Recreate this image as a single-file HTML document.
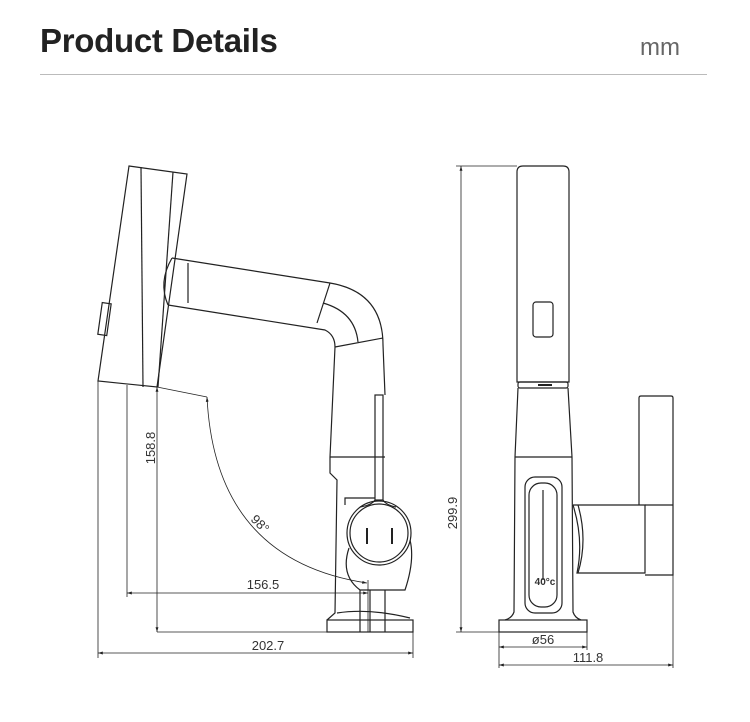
<!DOCTYPE html><html><head><style>
body{margin:0;background:#fff;width:750px;height:722px;overflow:hidden;font-family:"Liberation Sans",sans-serif}
.t{position:absolute;left:40px;top:22px;font-size:33px;font-weight:bold;color:#222;letter-spacing:-0.3px}
.mm{position:absolute;left:640px;top:34px;font-size:24px;color:#666}
.ln{position:absolute;left:40px;top:74px;width:667px;height:1px;background:#bbb}
</style></head><body>
<div class="t">Product Details</div><div class="mm">mm</div><div class="ln"></div>
<svg width="750" height="722" style="position:absolute;left:0;top:0" fill="none" stroke="#222" stroke-width="1.2">
<defs><marker id="a" viewBox="0 0 10 10" refX="10" refY="5" markerWidth="6" markerHeight="6" orient="auto-start-reverse"><path d="M0,2L10,5L0,8z" fill="#222" stroke="none"/></marker></defs>
<path d="M129,166 L187,174 L157,387 L98,381 Z"/>
<line x1="141" y1="167" x2="143" y2="387"/>
<line x1="173" y1="172" x2="158" y2="387"/>
<rect x="100" y="303" width="9" height="32" transform="rotate(8 104 319)"/>
<path d="M172,258 Q158,282 168,305"/>
<line x1="188" y1="263" x2="188" y2="303"/>
<path d="M172,258 L330,283 Q383,292 383,345 L385,395"/>
<path d="M168,305 L325,330 Q335,335 335,347 L330,457"/>
<line x1="330" y1="283" x2="317" y2="323"/>
<line x1="335" y1="347" x2="383" y2="338"/>
<path d="M323,303 Q355,312 358,342"/>
<path d="M330,457 L385,457"/>
<path d="M330,457 L330,473 L337,480 L335,613 L327,620"/>
<rect x="327" y="620" width="86" height="12"/>
<path d="M337,613 Q370,608 410,618"/>
<path d="M345,505 L345,498 L375,498"/>
<path d="M349,548 Q340,575 360,590 L405,590 Q415,560 410,540"/>
<line x1="360" y1="590" x2="360" y2="632"/><line x1="385" y1="590" x2="385" y2="632"/><line x1="370" y1="590" x2="370" y2="632"/>
<rect x="375" y="395" width="8" height="105"/>
<path d="M375,500 Q372,505 360,507 M383,500 Q386,505 396,507"/>
<circle cx="379" cy="533" r="32"/>
<circle cx="379" cy="533" r="29"/>
<line x1="367" y1="528" x2="367" y2="544" stroke-width="2"/><line x1="392" y1="528" x2="392" y2="544" stroke-width="2"/>
<g stroke-width="0.8">
<line x1="157" y1="387" x2="157" y2="632" marker-start="url(#a)" marker-end="url(#a)"/>
<line x1="157" y1="632" x2="327" y2="632"/>
<line x1="127" y1="385" x2="127" y2="597"/>
<line x1="127" y1="593" x2="368" y2="593" marker-start="url(#a)" marker-end="url(#a)"/>
<line x1="368" y1="580" x2="368" y2="632"/>
<line x1="98" y1="381" x2="98" y2="658"/>
<line x1="413" y1="632" x2="413" y2="658"/>
<line x1="98" y1="653" x2="413" y2="653" marker-start="url(#a)" marker-end="url(#a)"/>
<line x1="157" y1="387" x2="207" y2="397"/>
<path d="M207,397 Q215,560 367,583" marker-start="url(#a)" marker-end="url(#a)"/>
</g>
<path d="M517,382 L517,172 Q517,166 523,166 L563,166 Q569,166 569,172 L569,382 Z"/>
<rect x="533" y="302" width="20" height="35" rx="3"/>
<rect x="518" y="382" width="50" height="6" rx="2"/>
<line x1="538" y1="385" x2="552" y2="385" stroke-width="2"/>
<path d="M518,388 L515,457 L514,612 Q512,618 505,620 M568,388 L572,457 L573,612 Q575,618 581,620"/>
<line x1="515" y1="457" x2="572" y2="457"/>
<rect x="499" y="620" width="88" height="12"/>
<rect x="525" y="477" width="37" height="136" rx="10"/>
<rect x="529" y="483" width="28" height="124" rx="12"/>
<line x1="543" y1="490" x2="543" y2="580"/>
<path d="M573,505 L645,505 L645,573 L577,573 Q584,540 573,505"/>
<path d="M578,505 Q588,540 578,573"/>
<path d="M639,505 L639,398 Q639,396 641,396 L671,396 Q673,396 673,398 L673,575 L645,575"/>
<line x1="645" y1="505" x2="673" y2="505"/>
<g stroke-width="0.8">
<line x1="461" y1="166" x2="461" y2="632" marker-start="url(#a)" marker-end="url(#a)"/>
<line x1="456" y1="166" x2="517" y2="166"/><line x1="456" y1="632" x2="499" y2="632"/>
<line x1="499" y1="632" x2="499" y2="668"/><line x1="587" y1="632" x2="587" y2="650"/>
<line x1="673" y1="575" x2="673" y2="668"/>
<line x1="499" y1="647" x2="587" y2="647" marker-start="url(#a)" marker-end="url(#a)"/>
<line x1="499" y1="665" x2="673" y2="665" marker-start="url(#a)" marker-end="url(#a)"/>
</g>
<g fill="#333" stroke="none" font-family="Liberation Sans,sans-serif" font-size="13">
<text x="155" y="448" transform="rotate(-90 155 448)" text-anchor="middle">158.8</text>
<text x="263" y="589" text-anchor="middle">156.5</text>
<text x="268" y="650" text-anchor="middle">202.7</text>
<text x="257" y="527" transform="rotate(45 257 527)" text-anchor="middle">98°</text>
<text x="457" y="513" transform="rotate(-90 457 513)" text-anchor="middle">299.9</text>
<text x="543" y="644" text-anchor="middle">ø56</text>
<text x="588" y="662" text-anchor="middle">111.8</text>
<text x="545" y="585" text-anchor="middle" font-size="10" font-weight="bold">40°c</text>
</g>
</svg>
</body></html>
